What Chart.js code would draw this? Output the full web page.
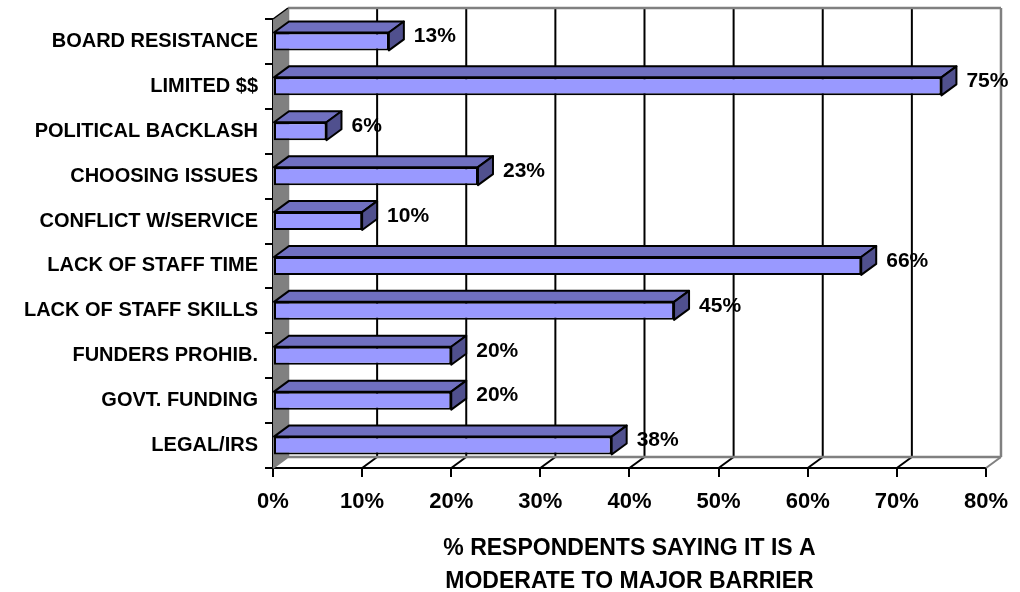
<!DOCTYPE html>
<html>
<head>
<meta charset="utf-8">
<script src="https://cdn.jsdelivr.net/npm/chart.js@4"></script>
<style>
  html, body { margin: 0; padding: 0; background: #fff; }
  canvas { display: block; }
</style>
</head>
<body>
<canvas id="barrierChart" width="1020" height="592"></canvas>
<script>
    // chart values
    var categories = ['BOARD RESISTANCE', 'LIMITED $$', 'POLITICAL BACKLASH', 'CHOOSING ISSUES', 'CONFLICT W/SERVICE',
        'LACK OF STAFF TIME', 'LACK OF STAFF SKILLS', 'FUNDERS PROHIB.', 'GOVT. FUNDING', 'LEGAL/IRS'];
    var percentSaying = [13, 75, 6, 23, 10, 66, 45, 20, 20, 38];
    var xTickValues = [0, 10, 20, 30, 40, 50, 60, 70, 80];
    var axisTitle = ['% RESPONDENTS SAYING IT IS A', 'MODERATE TO MAJOR BARRIER'];

    // depth of the fake 3d box
    var depthX = 15;
    var depthY = 11;
    var fontFamily = '"Liberation Sans", Arial, sans-serif';

    function line(ctx, x1, y1, x2, y2, color, width) {
        ctx.strokeStyle = color;
        ctx.lineWidth = width;
        ctx.beginPath();
        ctx.moveTo(x1, y1);
        ctx.lineTo(x2, y2);
        ctx.stroke();
    }

    // walls, floor and back grid, drawn before the bars
    var wallsPlugin = {
        id: 'walls',
        beforeDatasetsDraw: function(chart) {
            var ctx = chart.ctx;
            var a = chart.chartArea;
            var xs = chart.scales.x;
            ctx.save();

            // left wall
            ctx.fillStyle = '#808080';
            ctx.beginPath();
            ctx.moveTo(a.left, a.top);
            ctx.lineTo(a.left + depthX, a.top - depthY);
            ctx.lineTo(a.left + depthX, a.bottom - depthY);
            ctx.lineTo(a.left, a.bottom);
            ctx.closePath();
            ctx.fill();

            // grid lines on the back wall + floor diagonals
            xTickValues.forEach(function(v, i) {
                var px = xs.getPixelForValue(v);
                var edge = (i === 0 || i === xTickValues.length - 1);
                var col = edge ? '#808080' : '#000';
                line(ctx, px + depthX, a.top - depthY, px + depthX, a.bottom - depthY, col, edge ? 2.5 : 2);
                line(ctx, px, a.bottom, px + depthX, a.bottom - depthY, col, 2);
            });

            // back wall top and bottom edges
            line(ctx, a.left + depthX, a.top - depthY, a.right + depthX, a.top - depthY, '#808080', 2.5);
            line(ctx, a.left + depthX, a.bottom - depthY, a.right + depthX, a.bottom - depthY, '#808080', 2.5);
            // top edge of left wall
            line(ctx, a.left, a.top, a.left + depthX, a.top - depthY, '#000', 1.5);

            ctx.restore();
        },

        // top and side faces of the bars, and the value labels
        afterDatasetsDraw: function(chart) {
            var ctx = chart.ctx;
            var meta = chart.getDatasetMeta(0);
            ctx.save();
            ctx.lineWidth = 2;
            ctx.strokeStyle = '#000';
            ctx.lineJoin = 'round';
            meta.data.forEach(function(bar, i) {
                var p = bar.getProps(['x', 'y', 'base', 'height'], true);
                var top = p.y - p.height / 2;
                var bottom = p.y + p.height / 2;

                ctx.fillStyle = '#7070C0';
                ctx.beginPath();
                ctx.moveTo(p.base, top);
                ctx.lineTo(p.base + depthX, top - depthY);
                ctx.lineTo(p.x + depthX, top - depthY);
                ctx.lineTo(p.x, top);
                ctx.closePath();
                ctx.fill();
                ctx.stroke();

                ctx.fillStyle = '#50508E';
                ctx.beginPath();
                ctx.moveTo(p.x, top);
                ctx.lineTo(p.x + depthX, top - depthY);
                ctx.lineTo(p.x + depthX, bottom - depthY);
                ctx.lineTo(p.x, bottom);
                ctx.closePath();
                ctx.fill();
                ctx.stroke();

                ctx.fillStyle = '#000';
                ctx.font = 'bold 21px ' + fontFamily;
                ctx.textAlign = 'left';
                ctx.textBaseline = 'middle';
                ctx.fillText(percentSaying[i] + '%', p.x + depthX + 10, p.y - 5);
            });
            ctx.restore();
        }
    };

    var ctx = document.getElementById('barrierChart').getContext('2d');

    var chart = new Chart(ctx, {
        type: 'bar',
        data: {
            labels: categories,
            datasets: [{
                data: percentSaying,
                backgroundColor: '#9999FF',
                borderColor: '#000',
                borderWidth: 2,
                borderSkipped: false,
                barPercentage: 0.4,
                categoryPercentage: 1
            }]
        },
        options: {
            indexAxis: 'y',
            responsive: false,
            animation: false,
            layout: {
                padding: { left: 0, right: 32, top: 15, bottom: -6 }
            },
            plugins: {
                legend: { display: false },
                tooltip: { enabled: false }
            },
            scales: {
                x: {
                    min: 0,
                    max: 80,
                    afterBuildTicks: function(scale) {
                        scale.ticks = xTickValues.map(function(v) { return { value: v }; });
                    },
                    ticks: {
                        callback: function(v) { return v + '%'; },
                        color: '#000',
                        padding: 12,
                        maxRotation: 0,
                        font: { family: fontFamily, size: 22, weight: 'bold' }
                    },
                    grid: { drawOnChartArea: false, drawTicks: true, tickLength: 9, color: '#000', lineWidth: 2 },
                    border: { display: true, color: '#000', width: 2 },
                    title: {
                        display: true,
                        text: axisTitle,
                        color: '#000',
                        padding: 0,
                        font: { family: fontFamily, size: 23, weight: 'bold', lineHeight: '33px' }
                    },
                    afterFit: function(scale) { scale.height = 130; }
                },
                y: {
                    ticks: {
                        color: '#000',
                        padding: 7,
                        font: { family: fontFamily, size: 20, weight: 'bold' }
                    },
                    grid: { offset: true, drawOnChartArea: false, drawTicks: true, tickLength: 8, color: '#000', lineWidth: 2 },
                    border: { display: true, color: '#000', width: 2 },
                    afterFit: function(scale) { scale.width = 273; }
                }
            }
        },
        plugins: [wallsPlugin]
    });
</script>
</body>
</html>
